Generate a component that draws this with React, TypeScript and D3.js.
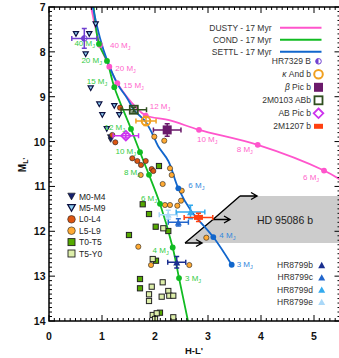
import React from 'react';
import * as d3 from 'd3';

// ---------- DATA ----------
// model tracks: [H-L', M_L', mass (MJ) or null]
const dusty: [number, number, number | null][] = [
  [0.77, 6.85, null], [0.962, 7.846, 40], [1.138, 8.33, 20], [1.289, 8.70, 15],
  [1.655, 9.256, null], [1.825, 9.42, 12], [2.283, 9.528, null], [2.83, 9.739, 10],
  [3.938, 10.073, 8], [5.189, 10.646, 6], [5.6, 10.93, null],
];
const cond: [number, number, number | null][] = [
  [0.83, 6.8, null], [0.943, 7.824, 40], [1.094, 8.203, 20], [1.232, 8.788, 15],
  [1.547, 9.717, 12], [1.717, 10.236, 10], [1.887, 10.742, 8], [2.094, 11.388, 6],
  [2.334, 12.361, 4], [2.453, 13.042, 3], [2.64, 14.1, null],
];
const settl: [number, number, number | null][] = [
  [0.79, 6.8, null], [0.962, 7.69, null], [1.094, 8.18, null], [1.302, 8.737, null],
  [1.472, 9.027, null], [1.604, 9.296, null], [1.811, 9.541, null], [1.943, 9.809, null],
  [2.057, 10.099, null], [2.251, 10.433, null], [2.44, 11.042, 6], [2.68, 11.54, null],
  [3.10, 12.129, 4], [3.447, 12.746, 3],
];

// field dwarfs [H-L', M_L']
const m0m4: [number, number][] = [[1.151, 9.898], [1.164, 9.965]];
const m5m9: [number, number][] = [
  [0.881, 7.386], [0.509, 7.602], [0.76, 7.602], [0.692, 8.054], [0.787, 8.812],
  [0.949, 9.169], [1.006, 9.408], [1.232, 9.207], [1.326, 9.408], [1.09, 9.72],
];
const l0l4: [number, number][] = [
  [1.34, 9.245], [1.194, 9.853], [1.251, 10.016], [1.572, 10.373], [1.666, 10.433],
  [1.736, 10.522], [1.825, 10.433], [1.938, 10.611], [1.968, 10.656],
];
const l5l9: [number, number][] = [
  [1.987, 9.891], [2.175, 9.981], [1.73, 10.745], [2.283, 10.596], [2.315, 10.745],
  [2.145, 10.946], [2.504, 11.095], [2.491, 11.318], [2.421, 11.43], [2.283, 11.414],
  [2.189, 11.414], [2.968, 12.143], [1.685, 12.344], [1.925, 12.752], [2.647, 12.752],
];
const t0t5: [number, number][] = [
  [2.075, 10.545], [1.768, 11.398], [1.887, 11.615], [2.013, 11.898], [2.251, 11.994],
  [1.509, 12.083], [2.019, 12.656], [1.717, 13.064], [1.717, 13.271], [2.094, 13.815],
];
const t5y0: [number, number][] = [
  [2.157, 11.933], [1.957, 12.618], [1.938, 13.235], [2.145, 13.137], [1.887, 13.405],
  [1.887, 13.554], [2.126, 13.458], [2.251, 13.331], [2.27, 13.436], [2.345, 13.436],
  [1.957, 13.866], [2.032, 13.828], [2.0, 13.955], [2.345, 13.917],
];

// companions: name, x, y, xerr, yerr
const companions: { id: string; x: number; y: number; ex: number; ey: number }[] = [
  { id: 'HR7329B', x: 0.666, y: 7.70, ex: 0.236, ey: 0.22 },
  { id: 'kAnd', x: 1.83, y: 9.54, ex: 0.19, ey: 0.10 },
  { id: 'bPic', x: 2.23, y: 9.74, ex: 0.26, ey: 0.14 },
  { id: '2M0103', x: 1.60, y: 9.29, ex: 0.24, ey: 0.05 },
  { id: 'ABPic', x: 1.45, y: 9.87, ex: 0.24, ey: 0.05 },
  { id: 'HR8799e', x: 2.25, y: 11.63, ex: 0.17, ey: 0.10 },
  { id: 'HR8799d', x: 2.67, y: 11.57, ex: 0.27, ey: 0.15 },
  { id: 'HR8799c', x: 2.44, y: 11.80, ex: 0.19, ey: 0.08 },
  { id: 'HR8799b', x: 2.41, y: 12.69, ex: 0.17, ey: 0.13 },
  { id: '2M1207', x: 2.82, y: 11.69, ex: 0.27, ey: 0.09 },
];

// HD 95086 b lower-limit region: [H-L' limit, M_L']
const hdLimits: [number, number][] = [[3.604, 11.213], [3.094, 11.737], [2.566, 12.261]];
const xTicks = [0, 1, 2, 3, 4, 5];
const yTicks = [7, 8, 9, 10, 11, 12, 13, 14];

// ---------- STYLE ----------
const FONT = '"Liberation Sans", Arial, Helvetica, sans-serif';
const C = {
  dusty: '#ff55cc', cond: '#11bb22', settl: '#1166cc',
  dustyL: '#ff66cc', condL: '#33cc44', settlL: '#3388dd',
  hr7329: '#7040d0', kand: '#f0a020', bpic: '#6b1a6b', m0103: '#2f4f1f', abpic: '#cc33ee',
  m1207: '#ff4010', b: '#1a2f8f', c: '#2266cc', d: '#33aaee', e: '#aad8f8',
  m0: '#15206e', m5: '#8fd0f4', l0: '#dd5511', l5: '#ffaa33', t0: '#55aa00', t5: '#ddeeaa',
};
const compColor: Record<string, string> = {
  HR7329B: C.hr7329, kAnd: C.kand, bPic: C.bpic, '2M0103': C.m0103, ABPic: C.abpic,
  HR8799b: C.b, HR8799c: C.c, HR8799d: C.d, HR8799e: C.e, '2M1207': C.m1207,
};
// label offsets [dx, dy, anchor]
const labelOff: Record<string, [number, number, string]> = {
  'D40': [10, 1, 'start'], 'D20': [6, 2, 'start'], 'D15': [6, 2, 'start'], 'D12': [4, -9, 'start'],
  'D10': [-2, 10, 'start'], 'D8': [-21, 5, 'start'], 'D6': [-21, 6.5, 'start'],
  'C40': [-4, 0, 'end'], 'C20': [-5, 0, 'end'], 'C15': [-7, -5.5, 'end'], 'C12': [-6, -1.5, 'end'],
  'C10': [-4, -0.5, 'end'], 'C8': [-9, -2, 'end'], 'C6': [-3, -5.5, 'end'], 'C4': [-4, 3, 'end'],
  'C3': [6, 0, 'start'],
  'S6': [10, -3, 'start'], 'S4': [6, -2, 'start'], 'S3': [5, 0, 'start'],
};

function triPath(cx: number, cy: number, s: number, down: boolean) {
  const h = s * 0.9;
  return down
    ? `M${cx - s / 2},${cy - h / 2}L${cx + s / 2},${cy - h / 2}L${cx},${cy + h / 2}Z`
    : `M${cx - s / 2},${cy + h / 2}L${cx + s / 2},${cy + h / 2}L${cx},${cy - h / 2}Z`;
}

function MassLabel({ x, y, m, color, anchor }: any) {
  return (
    <text x={x} y={y} fill={color} fontSize={8} fontFamily={FONT} textAnchor={anchor} dominantBaseline="central">
      {m} M<tspan fontSize={5.5} dy={2.5}>J</tspan>
    </text>
  );
}

function CompMarker({ id, cx, cy }: { id: string; cx: number; cy: number }) {
  const col = compColor[id];
  if (id === 'HR7329B')
    return (
      <g>
        <circle cx={cx} cy={cy} r={2.8} fill="none" stroke={col} strokeWidth={1} />
        <path d={`M${cx},${cy - 2.8}A2.8,2.8 0 0 0 ${cx},${cy + 2.8}Z`} fill={col} />
      </g>
    );
  if (id === 'kAnd') return <circle cx={cx} cy={cy} r={4.3} fill="none" stroke={col} strokeWidth={2} />;
  if (id === 'bPic') return <rect x={cx - 4.5} y={cy - 4.5} width={9} height={9} fill={col} />;
  if (id === '2M0103') return <rect x={cx - 4} y={cy - 4} width={8} height={8} fill="none" stroke={col} strokeWidth={1.8} />;
  if (id === 'ABPic')
    return <path d={`M${cx},${cy - 4.8}L${cx + 4.8},${cy}L${cx},${cy + 4.8}L${cx - 4.8},${cy}Z`} fill="none" stroke={col} strokeWidth={1.8} />;
  if (id === '2M1207') return <rect x={cx - 4.5} y={cy - 2.5} width={9} height={5} fill={col} />;
  return <path d={triPath(cx, cy, 7, false)} fill={col} />;
}

export default function App() {
  const x = d3.scaleLinear().domain([0, 5.5]).range([49, 340.5]);
  const y = d3.scaleLinear().domain([7, 14]).range([7, 321]);
  const line = d3
    .line<[number, number, number | null]>()
    .x((d) => x(d[0]))
    .y((d) => y(d[1]))
    .curve(d3.curveCatmullRom.alpha(0.5));

  const x0 = x(0), x1 = x(5.5), y0 = y(7), y1 = y(14);
  const xMinor = d3.range(0, 5.501, 0.1).map((v) => Math.round(v * 10) / 10);
  const yMinor = d3.range(7, 14.001, 0.1).map((v) => Math.round(v * 10) / 10);

  const models = [
    { key: 'D', data: dusty, col: C.dusty, lab: C.dustyL },
    { key: 'C', data: cond, col: C.cond, lab: C.condL },
    { key: 'S', data: settl, col: C.settl, lab: C.settlL },
  ];
  const settlDots = new Set([6, 4, 3]);

  const hdTop = hdLimits[0][1], hdBot = hdLimits[hdLimits.length - 1][1];
  const polyPts = [
    ...hdLimits.map((d) => [x(d[0]), y(d[1])]),
    [x(5.5), y(hdBot)],
    [x(5.5), y(hdTop)],
  ];

  const legendModels = [
    { name: 'DUSTY - 17 Myr', col: C.dusty },
    { name: 'COND - 17 Myr', col: C.cond },
    { name: 'SETTL - 17 Myr', col: C.settl },
  ];
  const legendComp: { id: string; label: React.ReactNode }[] = [
    { id: 'HR7329B', label: 'HR7329 B' },
    { id: 'kAnd', label: <><tspan fontStyle="italic">κ</tspan> And b</> },
    { id: 'bPic', label: <><tspan fontStyle="italic">β</tspan> Pic b</> },
    { id: '2M0103', label: '2M0103 ABb' },
    { id: 'ABPic', label: 'AB Pic b' },
    { id: '2M1207', label: '2M1207 b' },
  ];
  const legendHR = ['HR8799b', 'HR8799c', 'HR8799d', 'HR8799e'];
  const legendField = [
    { t: 'M0-M4', k: 'm0' }, { t: 'M5-M9', k: 'm5' }, { t: 'L0-L4', k: 'l0' },
    { t: 'L5-L9', k: 'l5' }, { t: 'T0-T5', k: 't0' }, { t: 'T5-Y0', k: 't5' },
  ];

  const fieldMarker = (k: string, cx: number, cy: number, big: boolean, key?: any) => {
    const s = big ? 7.5 : 5.2;
    if (k === 'm0') return <path key={key} d={triPath(cx, cy, s, true)} fill={C.m0} stroke="#111" strokeWidth={0.6} />;
    if (k === 'm5') return <path key={key} d={triPath(cx, cy, s, true)} fill={C.m5} stroke="#0c1040" strokeWidth={big ? 1.3 : 1.2} />;
    if (k === 'l0') return <circle key={key} cx={cx} cy={cy} r={big ? 3.8 : 2.6} fill={C.l0} stroke="#222" strokeWidth={0.6} />;
    if (k === 'l5') return <circle key={key} cx={cx} cy={cy} r={big ? 3.8 : 2.6} fill={C.l5} stroke="#222" strokeWidth={0.6} />;
    const q = big ? 7 : 5.2;
    return (
      <rect key={key} x={cx - q / 2} y={cy - q / 2} width={q} height={q}
        fill={k === 't0' ? C.t0 : C.t5} stroke="#222" strokeWidth={big ? 0.9 : 1} />
    );
  };

  return (
    <svg width={339} height={358} style={{ position: 'absolute', left: 0, top: 0, background: '#fff' }}>
      <defs>
        <clipPath id="plotclip">
          <rect x={x0} y={y0} width={x1 - x0} height={y1 - y0} />
        </clipPath>
      </defs>
      <rect x={0} y={0} width={339} height={358} fill="#fff" />

      <g clipPath="url(#plotclip)">
        {/* HD 95086 b region */}
        <polygon points={polyPts.map((p) => p.join(',')).join(' ')} fill="#cccccc" />
        <polyline points={hdLimits.map((d) => `${x(d[0])},${y(d[1])}`).join(' ')} fill="none" stroke="#000" strokeWidth={1.4} />
        {hdLimits.map((d, i) => {
          const sx = x(d[0]), sy = y(d[1]), ex = sx + 17;
          return (
            <path key={i} d={`M${sx},${sy}L${ex},${sy}M${ex - 6},${sy - 3.5}L${ex},${sy}L${ex - 6},${sy + 3.5}`}
              fill="none" stroke="#000" strokeWidth={1.4} />
          );
        })}

        {/* model lines */}
        {models.map((m) => (
          <path key={m.key} d={line(m.data) || ''} fill="none" stroke={m.col} strokeWidth={1.8} />
        ))}

        {/* field dwarfs */}
        {m5m9.map((d, i) => fieldMarker('m5', x(d[0]), y(d[1]), false, 'm5' + i))}
        {m0m4.map((d, i) => fieldMarker('m0', x(d[0]), y(d[1]), false, 'm0' + i))}
        {l0l4.map((d, i) => fieldMarker('l0', x(d[0]), y(d[1]), false, 'l0' + i))}
        {l5l9.map((d, i) => fieldMarker('l5', x(d[0]), y(d[1]), false, 'l5' + i))}
        {t0t5.map((d, i) => fieldMarker('t0', x(d[0]), y(d[1]), false, 't0' + i))}
        {t5y0.map((d, i) => fieldMarker('t5', x(d[0]), y(d[1]), false, 't5' + i))}

        {/* model dots */}
        {models.map((m) =>
          m.data
            .filter((d) => d[2] !== null && (m.key !== 'S' || settlDots.has(d[2] as number)))
            .map((d, i) => <circle key={m.key + i} cx={x(d[0])} cy={y(d[1])} r={2.9} fill={m.col} />)
        )}

        {/* companions */}
        {companions.map((c) => {
          const col = compColor[c.id];
          const cx = x(c.x), cy = y(c.y);
          const xl = x(c.x - c.ex), xr = x(c.x + c.ex), yt = y(c.y - c.ey), yb = y(c.y + c.ey);
          return (
            <g key={c.id}>
              <path
                d={`M${xl},${cy}L${xr},${cy}M${cx},${yt}L${cx},${yb}M${xl},${cy - 2.5}L${xl},${cy + 2.5}M${xr},${cy - 2.5}L${xr},${cy + 2.5}M${cx - 2.5},${yt}L${cx + 2.5},${yt}M${cx - 2.5},${yb}L${cx + 2.5},${yb}`}
                stroke={col} strokeWidth={1.5} fill="none" />
              <CompMarker id={c.id} cx={cx} cy={cy} />
            </g>
          );
        })}

        {/* mass labels */}
        {models.map((m) =>
          m.data
            .filter((d) => d[2] !== null && labelOff[m.key + d[2]])
            .map((d, i) => {
              const o = labelOff[m.key + d[2]];
              return <MassLabel key={m.key + 'l' + i} x={x(d[0]) + o[0]} y={y(d[1]) + o[1]} m={d[2]} color={m.lab} anchor={o[2]} />;
            })
        )}

        <text x={257} y={y((hdTop + hdBot) / 2) + 0.5} fontSize={10.5} fontFamily={FONT} fill="#222" dominantBaseline="central">
          HD 95086 b
        </text>
      </g>

      {/* axes frame */}
      <rect x={x0} y={y0} width={x1 - x0} height={y1 - y0} fill="none" stroke="#000" strokeWidth={1.5} />
      {xMinor.map((v) => {
        const major = Number.isInteger(v);
        const l = major ? 6 : 3;
        return (
          <g key={'xt' + v}>
            <line x1={x(v)} x2={x(v)} y1={y1} y2={y1 - l} stroke="#000" strokeWidth={1} />
            <line x1={x(v)} x2={x(v)} y1={y0} y2={y0 + l} stroke="#000" strokeWidth={1} />
          </g>
        );
      })}
      {yMinor.map((v) => {
        const major = Number.isInteger(v);
        const l = major ? 6 : 3;
        return (
          <g key={'yt' + v}>
            <line x1={x0} x2={x0 + l} y1={y(v)} y2={y(v)} stroke="#000" strokeWidth={1} />
            <line x1={x1} x2={x1 - l} y1={y(v)} y2={y(v)} stroke="#000" strokeWidth={1} />
          </g>
        );
      })}
      {xTicks.map((v) => (
        <text key={'xl' + v} x={x(v)} y={336} textAnchor="middle" dominantBaseline="central" fontSize={10.5} fontWeight="bold" fontFamily={FONT} fill="#111">
          {v}
        </text>
      ))}
      {yTicks.map((v) => (
        <text key={'yl' + v} x={45.5} y={y(v)} textAnchor="end" dominantBaseline="central" fontSize={10.5} fontWeight="bold" fontFamily={FONT} fill="#111">
          {v}
        </text>
      ))}
      <text x={194} y={350} textAnchor="middle" dominantBaseline="central" fontSize={9.5} fontWeight="bold" fontFamily={FONT} fill="#111">
        H-L'
      </text>
      <text transform="translate(22,165) rotate(-90)" textAnchor="middle" dominantBaseline="central" fontSize={10} fontWeight="bold" fontFamily={FONT} fill="#111">
        M<tspan fontSize={7} dy={2.5}>L'</tspan>
      </text>

      {/* legend: models */}
      {legendModels.map((l, i) => (
        <g key={l.name}>
          <text x={271.5} y={27.7 + i * 12} textAnchor="end" dominantBaseline="central" fontSize={8.5} fontFamily={FONT} fill="#333">
            {l.name}
          </text>
          <line x1={280} x2={321.5} y1={27.7 + i * 12} y2={27.7 + i * 12} stroke={l.col} strokeWidth={2} />
        </g>
      ))}
      {/* legend: companions */}
      {legendComp.map((l, i) => {
        const yy = 61.3 + i * 13;
        return (
          <g key={l.id}>
            <text x={311} y={yy} textAnchor="end" dominantBaseline="central" fontSize={8.5} fontFamily={FONT} fill="#333">
              {l.label}
            </text>
            <CompMarker id={l.id} cx={318.5} cy={yy} />
          </g>
        );
      })}
      {/* legend: HR8799 */}
      {legendHR.map((id, i) => {
        const yy = 265 + i * 12.3;
        return (
          <g key={id}>
            <text x={313} y={yy} textAnchor="end" dominantBaseline="central" fontSize={8.5} fontFamily={FONT} fill="#333">
              {id}
            </text>
            <path d={triPath(321.7, yy, 7, false)} fill={compColor[id]} />
          </g>
        );
      })}
      {/* legend: field dwarfs */}
      {legendField.map((l, i) => {
        const yy = 196.5 + i * 11.4;
        return (
          <g key={l.t}>
            {fieldMarker(l.k, 71.5, yy, true)}
            <text x={79} y={yy} dominantBaseline="central" fontSize={8.5} fontFamily={FONT} fill="#222">
              {l.t}
            </text>
          </g>
        );
      })}
    </svg>
  );
}
